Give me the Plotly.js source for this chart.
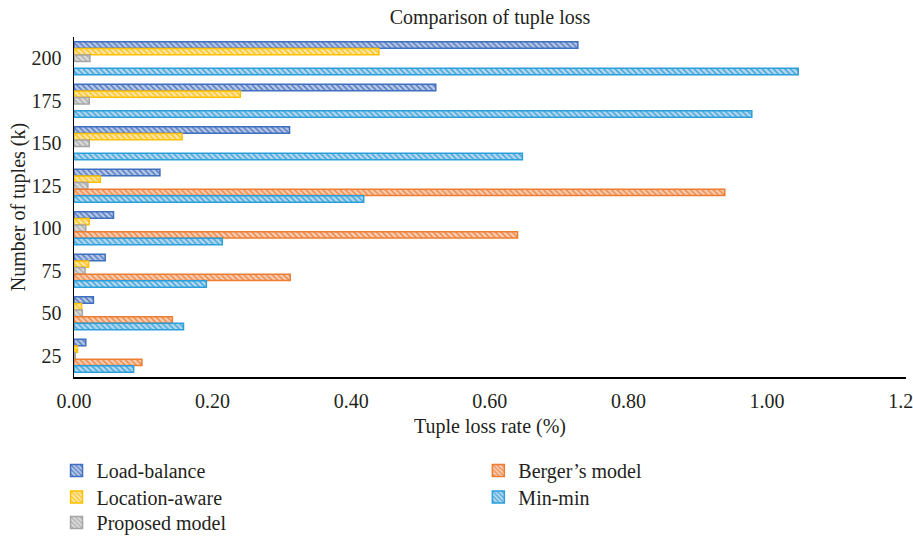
<!DOCTYPE html>
<html>
<head>
<meta charset="utf-8">
<script src="https://cdn.plot.ly/plotly-3.0.1.min.js"></script>
<style>
  html, body { margin: 0; padding: 0; background: #ffffff; }
  #chart { width: 913px; height: 536px; }
</style>
</head>
<body>
<div id="chart"></div>
<script>
// Categories (number of tuples, k)
var tupleCounts = ['25', '50', '75', '100', '125', '150', '175', '200'];

// Tuple loss rate (%) per series, same order as tupleCounts
var loadBalance   = [0.017, 0.028, 0.045, 0.057, 0.124, 0.311, 0.522, 0.727];
var locationAware = [0.005, 0.011, 0.021, 0.022, 0.038, 0.156, 0.240, 0.440];
var proposedModel = [0.002, 0.012, 0.016, 0.017, 0.020, 0.022, 0.022, 0.023];
var bergersModel  = [0.098, 0.142, 0.312, 0.640, 0.939, null, null, null];
var minMin        = [0.086, 0.158, 0.191, 0.214, 0.418, 0.647, 0.978, 1.045];

var xTickVals  = [0, 0.2, 0.4, 0.6, 0.8, 1.0, 1.2];
var xTickText  = ['0.00', '0.20', '0.40', '0.60', '0.80', '1.00', '1.20'];

var seriesNames = ['Load-balance', 'Location-aware', 'Proposed model', "Berger’s model", 'Min-min'];
var seriesData  = [loadBalance, locationAware, proposedModel, bergersModel, minMin];
var lineColors  = ['#3f6fbf', '#ffc000', '#a5a5a5', '#ed7d31', '#2a9fdc'];
var fillColors  = ['#b7c6e4', '#fde4a8', '#dadada', '#f7cbb2', '#b5d6ec'];
var legendIds   = ['legend', 'legend2', 'legend3', 'legend4', 'legend5'];

var FONT = 'Liberation Serif, Times New Roman, serif';
var TXT = '#231f20';

var traces = seriesNames.map(function (name, i) {
  return {
    type: 'bar',
    orientation: 'h',
    name: name,
    y: tupleCounts,
    x: seriesData[i],
    legend: legendIds[i],
    marker: {
      color: fillColors[i],
      line: { color: lineColors[i], width: 1.5 },
      pattern: { shape: '\\', fgcolor: lineColors[i], bgcolor: fillColors[i], size: 4, solidity: 0.3 }
    },
    hoverinfo: 'x+y+name'
  };
});

function legendAt(x, y) {
  return {
    orientation: 'v',
    x: x, xref: 'paper', xanchor: 'left',
    y: y, yref: 'paper', yanchor: 'top',
    font: { family: FONT, size: 20, color: TXT },
    bgcolor: 'rgba(0,0,0,0)'
  };
}

var layout = {
  width: 913,
  height: 536,
  paper_bgcolor: '#ffffff',
  plot_bgcolor: '#ffffff',
  font: { family: FONT, size: 20, color: TXT },
  margin: { l: 74, r: 7, t: 37, b: 159, pad: 0, autoexpand: false },
  title: {
    text: 'Comparison of tuple loss',
    font: { family: FONT, size: 20, color: TXT },
    x: 0.5, xref: 'paper', xanchor: 'center',
    y: 0.968, yref: 'container', yanchor: 'middle',
    automargin: false
  },
  barmode: 'group',
  bargap: 0.22,
  bargroupgap: 0.04,
  xaxis: {
    range: [0, 1.2005],
    tickvals: xTickVals,
    ticktext: xTickText,
    ticklabeloverflow: 'allow',
    showgrid: false,
    zeroline: false,
    showline: true,
    linecolor: '#000000',
    linewidth: 1.5,
    ticks: '',
    ticklabelstandoff: 5,
    tickfont: { family: FONT, size: 20, color: TXT },
    title: { text: 'Tuple loss rate (%)', font: { family: FONT, size: 20, color: TXT }, standoff: 8 },
    automargin: false,
    fixedrange: true
  },
  yaxis: {
    type: 'category',
    categoryorder: 'array',
    categoryarray: tupleCounts.slice().reverse(),
    autorange: 'reversed',
    showgrid: false,
    zeroline: false,
    showline: true,
    linecolor: '#000000',
    linewidth: 1.5,
    ticks: '',
    ticklabelstandoff: 7,
    tickfont: { family: FONT, size: 20, color: TXT },
    title: { text: 'Number of tuples (k)', font: { family: FONT, size: 20, color: TXT }, standoff: 0 },
    automargin: false,
    fixedrange: true
  },
  legend:  legendAt(-0.021, -0.2176),
  legend2: legendAt(-0.021, -0.2956),
  legend3: legendAt(-0.021, -0.3706),
  legend4: legendAt(0.486, -0.2176),
  legend5: legendAt(0.486, -0.2956),
  showlegend: true
};

Plotly.newPlot('chart', traces, layout, { displayModeBar: false, staticPlot: true });
</script>
</body>
</html>
